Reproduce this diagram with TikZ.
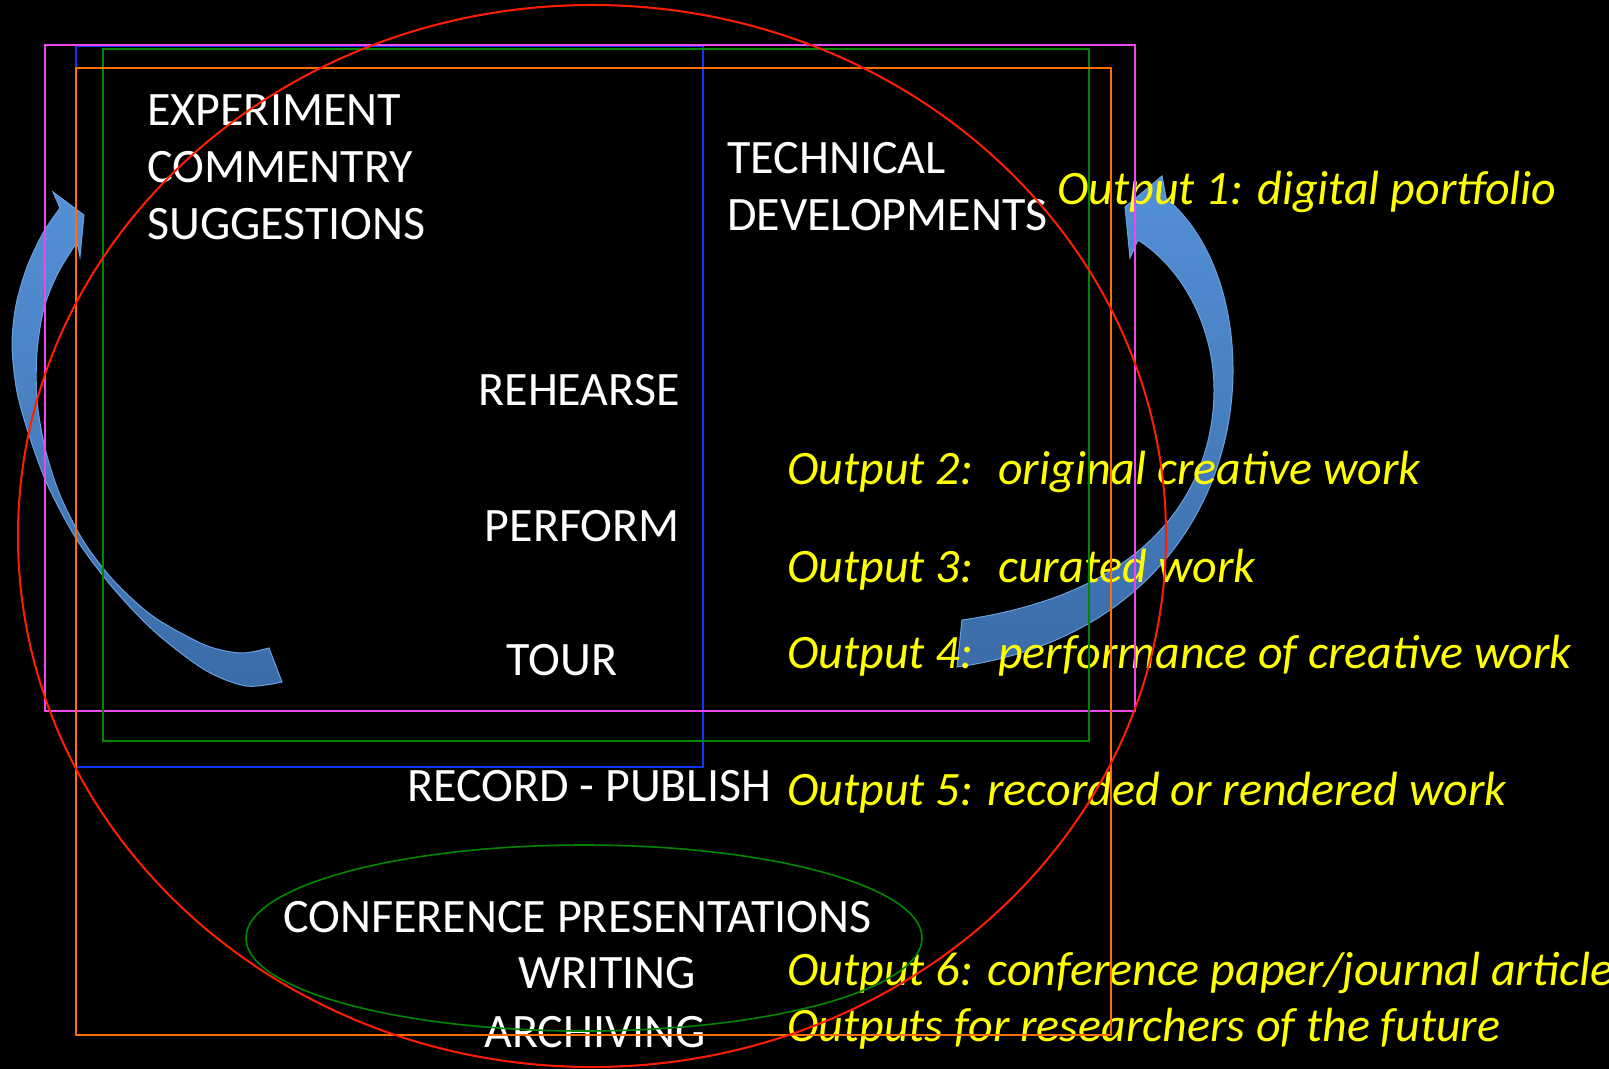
\documentclass[tikz,border=0pt]{standalone}
\usepackage{fontspec}
\setmainfont{Carlito}
\definecolor{magline}{RGB}{240,70,240}
\definecolor{greenline}{RGB}{0,135,0}
\definecolor{blueline}{RGB}{20,50,255}
\definecolor{orangeline}{RGB}{255,110,0}
\definecolor{redline}{RGB}{255,30,0}
\definecolor{outyellow}{RGB}{255,255,0}
\definecolor{arrowtop}{RGB}{84,144,214}
\definecolor{arrowbot}{RGB}{58,108,168}
\definecolor{arrowedge}{RGB}{105,160,222}

\begin{document}
\begin{tikzpicture}[x=0.5pt,y=-0.5pt,
  box/.style={line width=0.8pt},
  caps/.style={text=white,inner sep=0pt,anchor=base west,font=\fontsize{24}{29}\selectfont},
  outputlbl/.style={text=outyellow,inner sep=0pt,anchor=base west,font=\fontsize{24}{29}\selectfont\itshape},
  bigarrow/.style={top color=arrowtop,bottom color=arrowbot,draw=arrowedge,line width=0.5pt}]

  \fill[black] (0,0) rectangle (1609,1069);
  \useasboundingbox (0,0) rectangle (1609,1069);

  % curved arrows
  \path[bigarrow] plot[smooth] coordinates {(60,208) (43,233) (27,267) (16,305) (12,345) (17,392) (30,438) (48,486) (77,540) (113,588) (155,632) (205,670) (246,686) (282,682)}
    -- plot[smooth] coordinates {(269,648) (241,653) (205,645) (154,617) (115,582) (84,542) (60,495) (45,448) (37,400) (37,352) (44,308) (58,273) (77,242)}
    -- (80,257) -- (84,215) -- (53,192) -- cycle;
  \path[bigarrow] (1166,198) .. controls (1210,235) and (1233,300) .. (1233,370)
    .. controls (1233,500) and (1150,640) .. (957,667) -- (962,620)
    .. controls (1170,590) and (1214,470) .. (1214,390)
    .. controls (1214,330) and (1185,270) .. (1138,240)
    -- (1130,258) -- (1125,207) -- (1162,176) -- cycle;

  % white labels
  \node[caps] (experiment) at (147,126) {EXPERIMENT};
  \node[caps] (commentry) at (147,183) {COMMENTRY};
  \node[caps] (suggestions) at (147,240) {SUGGESTIONS};
  \node[caps] (technical) at (727,174) {TECHNICAL};
  \node[caps] (developments) at (727,231) {DEVELOPMENTS};
  \node[caps,anchor=base east] (rehearse) at (680,405) {REHEARSE};
  \node[caps,anchor=base east] (perform) at (680,541) {PERFORM};
  \node[caps] (tour) at (506,675) {TOUR};
  \node[caps] (record) at (407,801) {RECORD - PUBLISH};
  \node[caps] (conference) at (283,932) {CONFERENCE PRESENTATIONS};
  \node[caps] (writing) at (518,988) {WRITING};
  \node[caps] (archiving) at (484,1047) {ARCHIVING};

  % yellow outputs
  \node[outputlbl] (outone) at (1057,205) {Output 1: digital portfolio};
  \node[outputlbl] (outtwo) at (787,484) {Output 2: \ original creative work};
  \node[outputlbl] (outthree) at (787,582) {Output 3: \ curated work};
  \node[outputlbl] (outfour) at (787,668) {Output 4: \ performance of creative work};
  \node[outputlbl] (outfive) at (787,805) {Output 5: recorded or rendered work};
  \node[outputlbl] (outsix) at (787,985) {Output 6: conference paper/journal article};
  \node[outputlbl] (outfuture) at (787,1041) {Outputs for researchers of the future};

  % frames
  \draw[box,blueline] (76,46) rectangle (703,767);
  \draw[box,magline] (45,45) rectangle (1135,711);
  \draw[box,greenline] (103,49) rectangle (1089,741);
  \draw[box,orangeline] (76,68) rectangle (1111,1035);
  \draw[box,greenline] (584,938) ellipse [x radius=338, y radius=93];
  \draw[redline,line width=1pt] (592,536) ellipse [x radius=574, y radius=531];
\end{tikzpicture}
\end{document}
